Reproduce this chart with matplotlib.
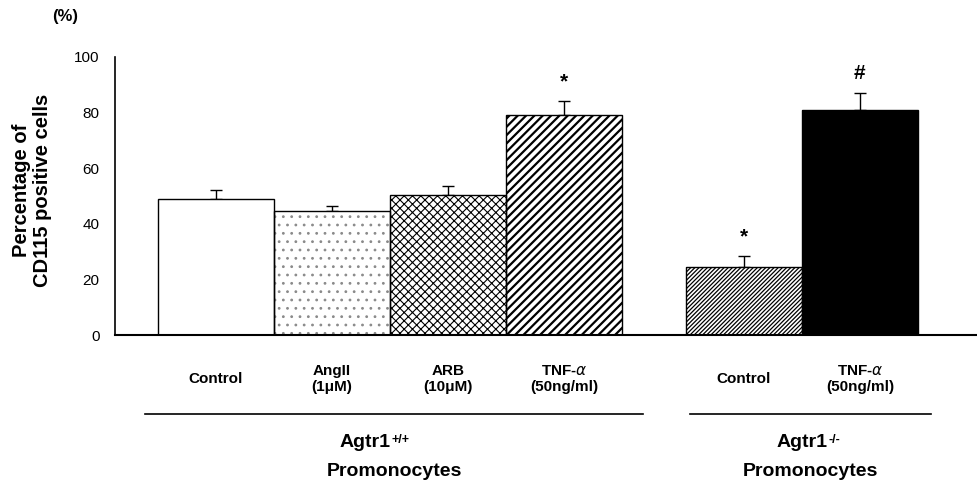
import matplotlib
matplotlib.use("Agg")
import matplotlib.pyplot as plt

plt.rcParams['font.family'] = ['Liberation Sans', 'DejaVu Sans']

# Data
categories = ["Control", "AngII\n(1\u03bcM)", "ARB\n(10\u03bcM)", "TNF-$\\alpha$\n(50ng/ml)",
              "Control", "TNF-$\\alpha$\n(50ng/ml)"]
values = [49, 44.5, 50.5, 79, 24.5, 81]
errors = [3, 1.8, 3, 5, 4, 6]
marks = ["", "", "", "*", "*", "#"]
group_names = ["Agtr1", "Agtr1"]
group_sups = ["+/+", "-/-"]
group_sub = ["Promonocytes", "Promonocytes"]
yticks = [0, 20, 40, 60, 80, 100]

positions = [0, 1, 2, 3, 4.55, 5.55]
styles = [
    dict(fc="white", hatch=None, hc="black", hlw=1.0),
    dict(fc="white", hatch="..", hc="#8a8a8a", hlw=0.8),
    dict(fc="white", hatch="xxxx", hc="black", hlw=0.8),
    dict(fc="white", hatch="////", hc="black", hlw=1.6),
    dict(fc="white", hatch="////////", hc="black", hlw=0.9),
    dict(fc="black", hatch=None, hc="black", hlw=1.0),
]

fig = plt.figure(figsize=(9.77, 4.83), dpi=100)
ax = fig.add_axes([0.1177, 0.3064, 0.8823, 0.5756])

for x, v, st in zip(positions, values, styles):
    with plt.rc_context({'hatch.linewidth': st['hlw'], 'hatch.color': st['hc']}):
        ax.bar(x, v, width=1.0, color=st['fc'], edgecolor=st['hc'],
               hatch=st['hatch'], linewidth=0, zorder=2)
    ax.bar(x, v, width=1.0, facecolor="none", edgecolor="black", linewidth=1.0, zorder=3)

ax.errorbar(positions, values, yerr=[[0]*len(values), errors], fmt="none",
            ecolor="black", elinewidth=1.0, capsize=4, capthick=1.0, zorder=1)

for x, v, e, m in zip(positions, values, errors, marks):
    if m:
        ax.text(x, v + e + 3.5, m, ha="center", va="bottom", fontsize=15,
                fontweight="bold")

ax.set_ylim(0, 100)
ax.set_xlim(-0.87, 6.56)
ax.set_yticks(yticks)
ax.set_yticklabels([str(t) for t in yticks], fontsize=11)
ax.tick_params(axis="y", length=0, pad=11)
ax.set_xticks([])
for s in ["top", "right"]:
    ax.spines[s].set_visible(False)
ax.spines["left"].set_linewidth(1.2)
ax.spines["bottom"].set_linewidth(1.5)

tr = ax.get_xaxis_transform()
for x, c in zip(positions, categories):
    ax.text(x, -0.158, c, transform=tr, ha="center", va="center", fontsize=11,
            fontweight="bold", linespacing=1.25)

# group lines and labels
group_spans = [(-0.61, 3.68), (4.09, 6.16)]
name_centers = [-0.45 + 1.45, 4.57 + 0.0]  # approximate label placement
name_x = [(372 - 216) / 116, (809 - 216) / 116]
for i, ((a, b), nm, sp, sb) in enumerate(zip(group_spans, group_names, group_sups, group_sub)):
    ax.plot([a, b], [-0.284, -0.284], transform=tr, color="black", lw=1.2,
            clip_on=False)
    t = ax.text(name_x[i] - 0.06, -0.388, nm, transform=tr, ha="center", va="center",
                fontsize=14, fontweight="bold")
    ax.annotate(sp, xy=(1.0, 1.0), xycoords=t, xytext=(1, 0),
                textcoords="offset points", ha="left", va="top", fontsize=9,
                fontweight="bold")
    ax.text((a + b) / 2, -0.49, sb, transform=tr, ha="center", va="center",
            fontsize=14, fontweight="bold")

fig.text(32 / 977, 1 - 190 / 483, "Percentage of\nCD115 positive cells",
         rotation=90, ha="center", va="center", fontsize=14.5, fontweight="bold",
         linespacing=1.1, multialignment="center")
fig.text(65 / 977, 1 - 16 / 483, "(%)", ha="center", va="center", fontsize=12,
         fontweight="bold")

fig.savefig("out.png", dpi=100)
